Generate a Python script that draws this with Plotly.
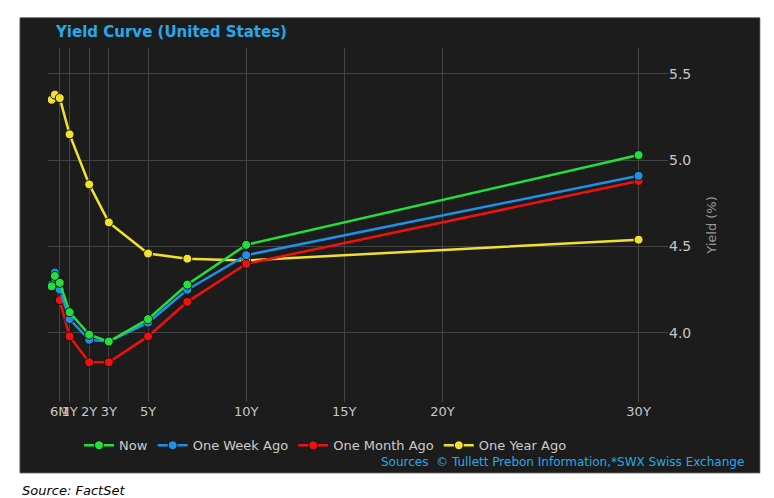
import plotly.graph_objects as go

maturities = [0.083, 0.25, 0.5, 1, 2, 3, 5, 7, 10, 30]
now = [4.27, 4.33, 4.29, 4.12, 3.99, 3.95, 4.08, 4.28, 4.51, 5.03]
week_ago = [4.28, 4.35, 4.25, 4.08, 3.96, 3.95, 4.06, 4.25, 4.45, 4.91]
month_ago = [4.27, 4.32, 4.19, 3.98, 3.83, 3.83, 3.98, 4.18, 4.40, 4.88]
year_ago = [5.35, 5.38, 5.36, 5.15, 4.86, 4.64, 4.46, 4.43, 4.42, 4.54]
tick_vals = [0.5, 1, 2, 3, 5, 10, 15, 20, 30]
tick_text = ["6M", "1Y", "2Y", "3Y", "5Y", "10Y", "15Y", "20Y", "30Y"]

series = [("Now", now, "#22e03a"), ("One Week Ago", week_ago, "#1e90e8"),
          ("One Month Ago", month_ago, "#f01010"), ("One Year Ago", year_ago, "#f0e030")]

fig = go.Figure()
for name, vals, col in series[::-1]:
    fig.add_trace(go.Scatter(x=maturities, y=vals, name=name, mode="lines+markers",
                             line=dict(color=col, width=2.5),
                             marker=dict(size=9, color=col, line=dict(color="#111", width=1))))

fig.add_shape(type="rect", xref="paper", yref="paper", x0=-0.045, x1=1.148, y0=-0.2, y1=1.085,
              fillcolor="#1c1c1c", line=dict(color="#333", width=1), layer="below")

fig.update_layout(
    width=774, height=498, paper_bgcolor="white", plot_bgcolor="rgba(0,0,0,0)",
    margin=dict(l=40, r=114, t=40, b=104, autoexpand=False),
    font=dict(family="DejaVu Sans", color="#bbbbbb", size=13),
    showlegend=True,
    legend=dict(orientation="h", x=0.05, y=-0.08, xanchor="left", yanchor="top",
                traceorder="reversed", font=dict(color="#cccccc", size=13), bgcolor="rgba(0,0,0,0)"),
    xaxis=dict(range=[-0.1, 31.5], tickvals=tick_vals, ticktext=tick_text, showgrid=True, tickangle=0,
               gridcolor="#444", zeroline=False, showline=False, automargin=False,
               tickfont=dict(size=13, color="#c8c8c8")),
    yaxis=dict(range=[3.6, 5.65], side="right", tickvals=[4.0, 4.5, 5.0, 5.5], tickformat=".1f",
               gridcolor="#444", zeroline=False, automargin=False, tickfont=dict(size=14, color="#c8c8c8"),
               title=dict(text="Yield (%)", font=dict(size=13, color="#999"), standoff=16)),
    annotations=[
        dict(text="<b>Yield Curve (United States)</b>", xref="paper", yref="paper", x=0.008, y=1.015,
             xanchor="left", yanchor="bottom", showarrow=False, font=dict(size=15, color="#2aa8e8")),
        dict(text="Sources  © Tullett Prebon Information,*SWX Swiss Exchange", xref="paper", yref="paper",
             x=1.126, y=-0.17, xanchor="right", yanchor="middle", showarrow=False,
             font=dict(size=12, color="#2aa8e8")),
        dict(text="<i>Source: FactSet</i>", xref="paper", yref="paper", x=-0.045, y=-0.25,
             xanchor="left", yanchor="middle", showarrow=False, font=dict(size=13, color="#000")),
    ],
)
fig.write_html("out.html")
